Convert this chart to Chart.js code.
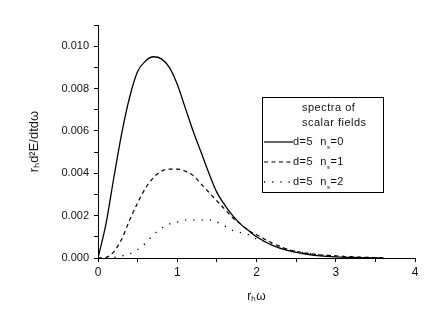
<!DOCTYPE html>
<html>
<head>
<meta charset="utf-8">
<script src="https://cdn.jsdelivr.net/npm/chart.js@4/dist/chart.umd.min.js"></script>
<style>
  html, body { margin: 0; padding: 0; background: #fff; }
  #wrap { width: 443px; height: 331px; }
</style>
</head>
<body>
<div id="wrap"><canvas id="spectra"></canvas></div>
<script>
// r_h * omega values
const xValues = [0, 0.1, 0.2, 0.3, 0.4, 0.5, 0.6, 0.7, 0.8, 0.9, 1.0, 1.1, 1.2, 1.3, 1.4,
                 1.5, 1.6, 1.7, 1.8, 1.9, 2.0, 2.2, 2.4, 2.6, 2.8, 3.0, 3.3, 3.6];

// d=5, n_s=0
const specN0 = [0, 0.0016, 0.0038, 0.0059, 0.0076, 0.0088, 0.0093, 0.0095, 0.0094, 0.0090,
                0.0082, 0.0071, 0.0060, 0.0050, 0.0040, 0.0031, 0.0025, 0.0020, 0.0016,
                0.0013, 0.0010, 0.0006, 0.00035, 0.0002, 0.0001, 0.00005, 0.00002, 0];
// d=5, n_s=1
const specN1 = [0, 0.00003, 0.0003, 0.0009, 0.0018, 0.0026, 0.0033, 0.0038, 0.0041, 0.0042,
                0.0042, 0.0041, 0.0039, 0.0035, 0.0031, 0.0027, 0.0023, 0.0019, 0.0016,
                0.0013, 0.0011, 0.0007, 0.0004, 0.00025, 0.00015, 0.0001, 0.00004, 0.00001];
// d=5, n_s=2
const specN2 = [0, 0, 0.00002, 0.0001, 0.0002, 0.0004, 0.0007, 0.0011, 0.0014, 0.0016,
                0.0017, 0.0018, 0.0018, 0.0018, 0.0018, 0.0017, 0.0015, 0.0013, 0.0012,
                0.0011, 0.0009, 0.0007, 0.0004, 0.00025, 0.00015, 0.0001, 0.00004, 0.00001];

const legendTitle = ["spectra of", "scalar fields"];
const legendNs = ["0", "1", "2"];
const lineDashes = [[], [4, 3.5], [1.2, 7]];

function pts(ys) {
    return xValues.map(function (x, i) { return { x: x, y: ys[i] }; });
}

const FONT = '"Liberation Sans", Arial, sans-serif';

const legendBox = {
    id: "legendBox",
    afterDraw: function (chart) {
        const ctx = chart.ctx;
        const L = 262, T = 97, R = 383, B = 192;
        ctx.save();
        ctx.strokeStyle = "#000";
        ctx.lineWidth = 1;
        ctx.strokeRect(L + 0.5, T + 0.5, R - L, B - T);
        ctx.fillStyle = "#111";
        ctx.font = "11px " + FONT;
        ctx.textBaseline = "middle";
        ctx.textAlign = "left";
        ctx.letterSpacing = "0.5px";
        ctx.fillText(legendTitle[0], 302, 108);
        ctx.fillText(legendTitle[1], 302, 123);
        const rows = [142, 162, 182];
        rows.forEach(function (yy, i) {
            ctx.setLineDash(lineDashes[i]);
            ctx.lineWidth = i === 2 ? 1.4 : 1.2;
            ctx.beginPath();
            ctx.moveTo(264, yy);
            ctx.lineTo(293, yy);
            ctx.stroke();
            ctx.setLineDash([]);
            ctx.font = "11px " + FONT;
            ctx.fillText("d=5  n", 293, yy);
            let w = ctx.measureText("d=5  n").width;
            ctx.font = "6px " + FONT;
            ctx.fillText("s", 293 + w, yy + 5);
            w += ctx.measureText("s").width;
            ctx.font = "11px " + FONT;
            ctx.fillText("=" + legendNs[i], 293 + w, yy);
        });
        ctx.restore();
    }
};

new Chart(document.getElementById("spectra"), {
    type: "line",
    data: {
        datasets: [
            { data: pts(specN0), borderColor: "#000", borderWidth: 1.3, borderDash: lineDashes[0] },
            { data: pts(specN1), borderColor: "#000", borderWidth: 1.2, borderDash: lineDashes[1] },
            { data: pts(specN2), borderColor: "#000", borderWidth: 1.4, borderDash: lineDashes[2] }
        ]
    },
    options: {
        responsive: true,
        maintainAspectRatio: false,
        animation: false,
        layout: { padding: { left: 0, right: 28, top: 25, bottom: 0 } },
        elements: {
            point: { radius: 0 },
            line: { cubicInterpolationMode: "monotone", fill: false }
        },
        plugins: { legend: { display: false }, tooltip: { enabled: false } },
        scales: {
            x: {
                type: "linear",
                min: 0,
                max: 4,
                afterFit: function (s) { s.height = 73; },
                border: { display: true, color: "#000", width: 1 },
                grid: { drawOnChartArea: false, drawTicks: true, tickLength: 4, color: "#000" },
                ticks: {
                    stepSize: 0.5,
                    padding: 3,
                    color: "#111",
                    font: { family: FONT, size: 12 },
                    autoSkip: false,
                    maxRotation: 0,
                    callback: function (v) { return Number.isInteger(v) ? String(v) : ""; }
                },
                title: {
                    display: true,
                    text: "rₕω",
                    color: "#111",
                    font: { family: FONT, size: 12 },
                    padding: { top: 0, bottom: 27 }
                }
            },
            y: {
                type: "linear",
                min: 0,
                max: 0.011,
                afterFit: function (s) { s.width = 98; },
                border: { display: true, color: "#000", width: 1 },
                grid: { drawOnChartArea: false, drawTicks: true, tickLength: 4, color: "#000" },
                ticks: {
                    stepSize: 0.001,
                    padding: 5,
                    color: "#111",
                    font: { family: FONT, size: 11 },
                    autoSkip: false,
                    callback: function (v) {
                        const k = Math.round(v * 1000);
                        return k % 2 === 0 && k <= 10 ? (k / 1000).toFixed(3) : "";
                    }
                },
                title: {
                    display: true,
                    text: "rₕd²E/dtdω",
                    color: "#111",
                    font: { family: FONT, size: 13 },
                    padding: { top: 27, bottom: 0 }
                }
            }
        }
    },
    plugins: [legendBox]
});
</script>
</body>
</html>
